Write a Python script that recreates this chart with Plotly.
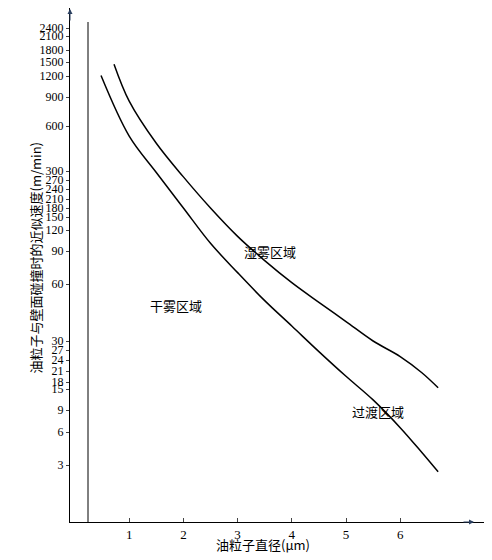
import numpy as np
import plotly.graph_objects as go

# y tick values and their pixel rows in the reference (non-uniform axis)
tick_vals = [3, 6, 9, 15, 18, 21, 24, 27, 30, 60, 90, 120, 150, 180, 210, 240, 270, 300, 600, 900, 1200, 1500, 1800, 2100, 2400]
tick_rows = [457, 424, 402, 381, 374, 363, 352, 342, 333, 276, 243, 222, 209, 200, 191, 181, 172, 163, 118, 89, 68, 54, 42, 28, 20]
x_ticks = [1, 2, 3, 4, 5, 6]

# curves (diameter um, speed m/min)
dry_x = [0.48, 1.0, 1.5, 2.0, 2.5, 3.0, 3.5, 4.0, 4.5, 5.0, 5.5, 6.0, 6.4, 6.7]
dry_y = [1210, 514, 295, 180, 100, 69, 49, 36, 26.5, 19.5, 11.5, 6.5, 3.9, 2.6]
wet_x = [0.72, 1.0, 1.5, 2.0, 2.5, 3.0, 3.5, 4.0, 4.5, 5.0, 5.5, 6.0, 6.4, 6.7]
wet_y = [1450, 850, 460, 280, 180, 110, 80, 61, 48, 38, 30, 25, 20.5, 15.5]

BOT = 514
lv = np.log(tick_vals)
pos = BOT - np.array(tick_rows, float)
slope_lo = (pos[1] - pos[0]) / (lv[1] - lv[0])

def ymap(v):
    l = np.log(np.asarray(v, float))
    out = np.interp(l, lv, pos)
    return np.where(l < lv[0], pos[0] + (l - lv[0]) * slope_lo, out)

x0px, ppu = 67.0, 54.2
fig = go.Figure()
for xs, ys in [(dry_x, dry_y), (wet_x, wet_y)]:
    fig.add_trace(go.Scatter(x=xs, y=ymap(ys), mode="lines",
                             line=dict(color="black", width=1.5, shape="spline", smoothing=1.0), showlegend=False))

xmin = (62 - x0px) / ppu
xmax = (492 - x0px) / ppu
fig.update_layout(
    width=492, height=560, margin=dict(l=0, r=0, t=0, b=0, autoexpand=False),
    plot_bgcolor="white", paper_bgcolor="white",
    font=dict(family="Liberation Serif", size=12, color="black"),
    xaxis=dict(domain=[62/492, 1], range=[xmin, xmax], showgrid=False, zeroline=False, automargin=False,
               showline=True, linecolor="black", tickvals=x_ticks, ticks="inside", ticklen=4,
               tickfont=dict(size=13)),
    yaxis=dict(domain=[(560-BOT)/560, 1], range=[0, BOT], showgrid=False, zeroline=False, automargin=False,
               showline=True, linecolor="black", tickvals=list(pos), ticktext=[str(v) for v in tick_vals],
               ticks="outside", ticklen=3, tickfont=dict(size=12)),
)
# vertical reference line and arrows
fig.add_shape(type="line", xref="x", yref="paper", x0=(80-x0px)/ppu, x1=(80-x0px)/ppu, y0=(560-BOT)/560, y1=(560-14)/560, line=dict(color="black", width=1))
fig.add_annotation(x=(466-x0px)/ppu, y=(560-BOT)/560, xref="x", yref="paper", ax=-12, ay=0, showarrow=True, arrowhead=2, arrowsize=1, arrowwidth=1, text="")
fig.add_annotation(x=62/492, y=1, xref="paper", yref="paper", ax=0, ay=14, showarrow=True, arrowhead=2, arrowsize=1, arrowwidth=1, text="")
cjk = dict(family="Noto Sans CJK SC", size=13, color="black")
for t, px, py in [("湿雾区域", 262, 243), ("干雾区域", 168, 297), ("过渡区域", 398, 415)]:
    fig.add_annotation(x=px/492, y=1-py/560, xref="paper", yref="paper", text=t, showarrow=False, font=cjk)
fig.add_annotation(x=255/492, y=1-548/560, xref="paper", yref="paper", text="油粒子直径(μm)", showarrow=False, font=cjk)
fig.add_annotation(x=16/492, y=1-250/560, xref="paper", yref="paper", text="油粒子与壁面碰撞时的近似速度(m/min)", textangle=-90, showarrow=False, font=cjk)
fig.write_html("out.html")
